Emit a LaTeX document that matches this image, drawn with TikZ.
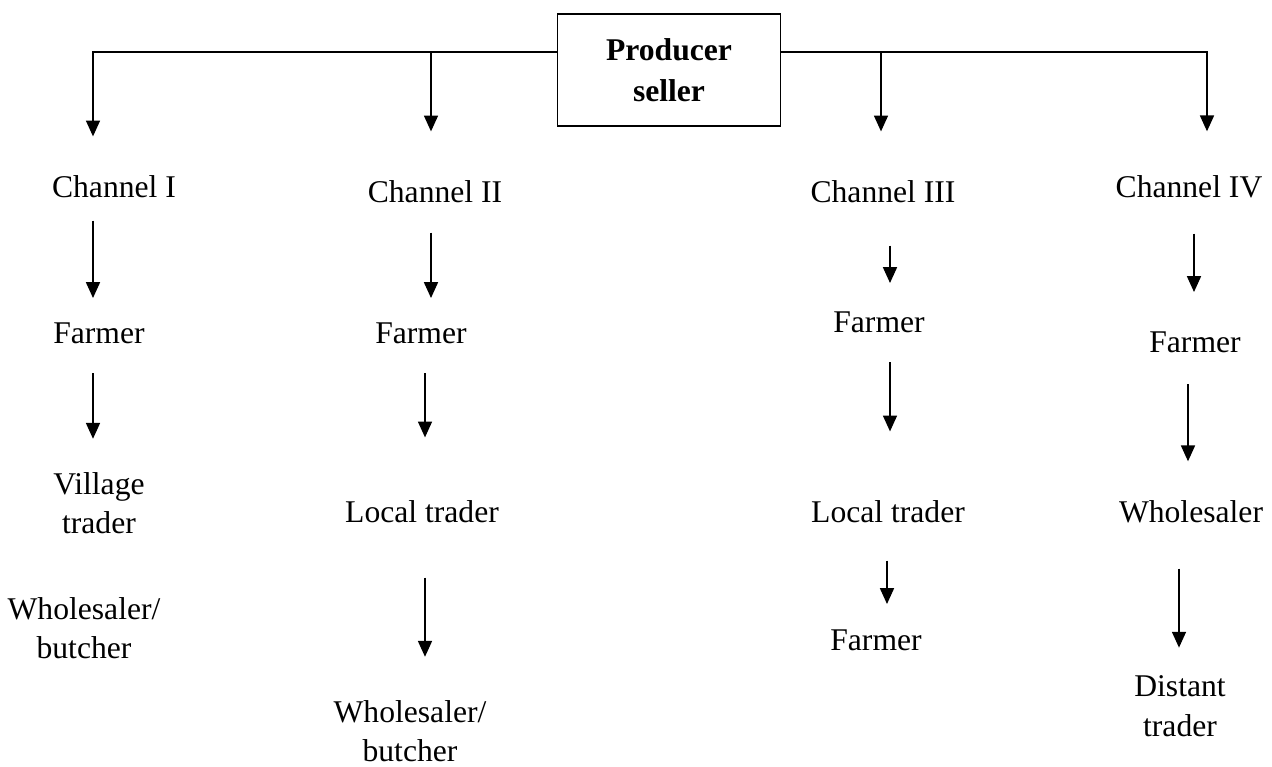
\documentclass[tikz,border=0pt]{standalone}
\usepackage{fontspec}
\setmainfont{Liberation Serif}
\usetikzlibrary{arrows.meta}

\begin{document}
\begin{tikzpicture}[x=0.02cm,y=-0.02cm,
    arr/.style={-{Triangle[length=9pt,width=8pt]},line width=0.75pt}]
    \tikzstyle{stage}=[inner sep=0pt,align=center,font=\fontsize{18}{22.5}\selectfont]
    \useasboundingbox (0,0) rectangle (1272,767);

    \node[draw,line width=0.85pt,minimum width=127pt,minimum height=63.5pt,align=center,
          font=\fontsize{18}{23}\selectfont\bfseries] (pb) at (669,70) {Producer\\seller};

    \foreach \name/\x/\y/\txt in {ch1/114/187/Channel I, ch2/435/192/Channel II,
            ch3/883/192/Channel III, ch4/1189/187/Channel IV}
        \node[stage] (\name) at (\x,\y) {\txt};

    % channel I
    \node[stage] (fa1) at (99,333) {Farmer};
    \node[stage] (vt1) at (99,503) {Village\\trader};
    \node[stage] (wb1) at (84,628) {Wholesaler/\\butcher};
    % channel II
    \node[stage] (fa2) at (421,333) {Farmer};
    \node[stage] (lt2) at (422,512) {Local trader};
    \node[stage] (wb2) at (410,731) {Wholesaler/\\butcher};
    % channel III
    \node[stage] (fa3) at (879,322) {Farmer};
    \node[stage] (lt3) at (888,512) {Local trader};
    \node[stage] (fb3) at (876,640) {Farmer};
    % channel IV
    \node[stage] (fa4) at (1195,342) {Farmer};
    \node[stage] (ws4) at (1191,512) {Wholesaler};
    \node[stage] (dt4) at (1180,706) {Distant\\trader};

    \foreach \c/\x/\sb in {ch1/93/39.15, ch2/431/49.15}
        \draw[arr,shorten >=\sb*0.02cm] ([yshift=10.2pt]pb.west) -| (\c.north -| \x,0);
    \foreach \c/\x/\sb in {ch3/881/49.15, ch4/1207/44.15}
        \draw[arr,shorten >=\sb*0.02cm] ([yshift=10.2pt]pb.east) -| (\c.north -| \x,0);

    \foreach \from/\to/\x/\sa/\sb in {ch1/fa1/93/22.15/24.15, fa1/vt1/93/29.15/33,
            ch2/fa2/431/29.15/24.15, fa2/lt2/425/29.15/63.15, lt2/wb2/425/54.15/43,
            ch3/fa3/890/42.15/28.15, fa3/lt3/890/29.15/69.15, lt3/fb3/887/37.15/25.15,
            ch4/fa4/1194/35.15/39.15, fa4/ws4/1188/31.15/39.15, ws4/dt4/1179/45.15/27.65}
        \draw[arr,shorten <=\sa*0.02cm,shorten >=\sb*0.02cm] (\from.south -| \x,0) -- (\to.north -| \x,0);
\end{tikzpicture}
\end{document}
